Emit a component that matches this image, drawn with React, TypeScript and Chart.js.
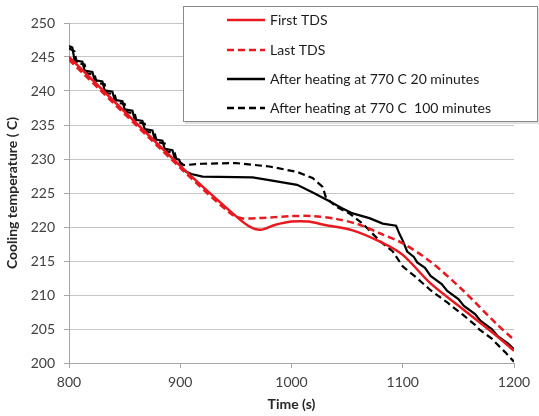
import React, { useEffect, useRef } from "react";
import { Chart, registerables } from "chart.js";

Chart.register(...registerables);

const seriesLabels = [
  "First TDS",
  "Last TDS",
  "After heating at 770 C 20 minutes",
  "After heating at 770 C  100 minutes",
];

const xTicks = [800, 900, 1000, 1100, 1200];
const yTicks = [200, 205, 210, 215, 220, 225, 230, 235, 240, 245, 250];

const firstTdsTime = [800, 900, 950, 962, 972, 985, 1000, 1015, 1030, 1055, 1080, 1100, 1125, 1155, 1185, 1200];
const firstTdsTemp = [245.0, 229.0, 221.6, 220.1, 219.6, 220.3, 220.8, 220.8, 220.3, 219.5, 217.8, 215.9, 211.7, 207.8, 203.9, 201.8];

const lastTdsTime = [800, 900, 945, 955, 970, 1000, 1020, 1040, 1060, 1079, 1100, 1125, 1154, 1184, 1200];
const lastTdsTemp = [244.6, 228.7, 222.0, 221.3, 221.3, 221.6, 221.6, 221.2, 220.4, 219.1, 217.6, 214.9, 210.7, 205.8, 203.4];

const heat20Time = [800, 803, 805, 812, 814, 821, 823, 830, 832, 839, 841, 848, 850, 857, 859, 866, 868, 875, 877, 884, 886, 893, 895, 899, 902, 910, 920, 965, 980, 1005, 1020, 1035, 1045, 1055, 1070, 1082, 1094, 1097, 1100, 1104, 1110, 1113, 1120, 1125, 1135, 1140, 1150, 1155, 1165, 1170, 1180, 1185, 1195, 1200];
const heat20Temp = [246.6, 246.4, 244.5, 244.3, 243.0, 242.8, 241.6, 241.4, 240.1, 239.9, 238.7, 238.5, 237.3, 237.1, 235.8, 235.6, 234.4, 234.2, 232.9, 232.7, 231.5, 231.3, 230.1, 229.9, 228.4, 227.8, 227.4, 227.3, 226.9, 226.2, 225.0, 223.7, 222.8, 222.0, 221.3, 220.5, 220.2, 219.0, 218.0, 216.4, 215.6, 214.8, 214.0, 212.8, 211.6, 210.6, 209.4, 208.4, 207.2, 206.2, 205.0, 204.0, 202.8, 202.0];

const heat100Time = [800, 805, 807, 814, 816, 823, 825, 832, 834, 841, 843, 850, 852, 859, 861, 868, 870, 877, 879, 886, 888, 895, 897, 901, 903, 920, 950, 980, 1005, 1019, 1028, 1031, 1040, 1052, 1064, 1079, 1091, 1100, 1112, 1125, 1140, 1154, 1165, 1169, 1180, 1184, 1192, 1200];
const heat100Temp = [246.3, 245.8, 244.1, 243.9, 242.6, 242.4, 241.2, 241.0, 239.7, 239.5, 238.3, 238.1, 236.9, 236.7, 235.4, 235.2, 234.0, 233.8, 232.5, 232.3, 231.1, 230.9, 229.7, 229.4, 229.1, 229.3, 229.4, 228.9, 228.1, 227.2, 225.9, 224.3, 223.0, 222.0, 220.5, 218.0, 216.4, 214.2, 212.6, 210.7, 208.9, 207.1, 205.6, 204.9, 203.6, 202.9, 201.6, 200.2];

const RED = "#e8191f";
const BLACK = "#000000";
const FONT = "Lato, 'Open Sans', sans-serif";

const toPoints = (xs: number[], ys: number[]) => xs.map((x, i) => ({ x, y: ys[i] }));

const legendBox = {
  id: "legendBox",
  afterDraw(chart: any) {
    const ctx = chart.ctx;
    const left = 183;
    const top = 6;
    const w = 355;
    const h = 116;
    ctx.save();
    ctx.fillStyle = "rgba(0,0,0,0.12)";
    ctx.fillRect(left + 2, top + 2, w, h);
    ctx.fillStyle = "#ffffff";
    ctx.fillRect(left, top, w, h);
    ctx.strokeStyle = "#8a8a8a";
    ctx.lineWidth = 1;
    ctx.strokeRect(left + 0.5, top + 0.5, w - 1, h - 1);
    const rows = [20, 50, 79, 108];
    chart.data.datasets.forEach((ds: any, i: number) => {
      const y = rows[i];
      ctx.beginPath();
      ctx.strokeStyle = ds.borderColor;
      ctx.lineWidth = 2.5;
      ctx.setLineDash(ds.borderDash || []);
      ctx.moveTo(227, y);
      ctx.lineTo(265, y);
      ctx.stroke();
      ctx.setLineDash([]);
      ctx.fillStyle = "#1a1a1a";
      ctx.font = `14px ${FONT}`;
      ctx.textBaseline = "middle";
      ctx.textAlign = "left";
      ctx.fillText(ds.label, 270, y);
    });
    ctx.restore();
  },
};

export default function App() {
  const ref = useRef<HTMLCanvasElement | null>(null);
  useEffect(() => {
    if (!ref.current) return;
    const chart = new Chart(ref.current, {
      type: "line",
      data: {
        datasets: [
          {
            label: seriesLabels[0],
            data: toPoints(firstTdsTime, firstTdsTemp),
            borderColor: RED,
            borderWidth: 2.5,
            pointRadius: 0,
            tension: 0.3,
          },
          {
            label: seriesLabels[1],
            data: toPoints(lastTdsTime, lastTdsTemp),
            borderColor: RED,
            borderWidth: 2.5,
            borderDash: [7, 4],
            pointRadius: 0,
            tension: 0.3,
          },
          {
            label: seriesLabels[2],
            data: toPoints(heat20Time, heat20Temp),
            borderColor: BLACK,
            borderWidth: 2.2,
            pointRadius: 0,
            tension: 0,
          },
          {
            label: seriesLabels[3],
            data: toPoints(heat100Time, heat100Temp),
            borderColor: BLACK,
            borderWidth: 2.2,
            borderDash: [7, 4],
            pointRadius: 0,
            tension: 0,
          },
        ],
      },
      options: {
        responsive: false,
        animation: false,
        layout: { padding: { top: 23, right: 25, left: 0, bottom: 0 } },
        plugins: {
          legend: { display: false },
          tooltip: { enabled: false },
        },
        scales: {
          x: {
            type: "linear",
            min: 800,
            max: 1200,
            afterFit: (s: any) => {
              s.height = 53;
            },
            afterBuildTicks: (s: any) => {
              s.ticks = xTicks.map((v) => ({ value: v }));
            },
            ticks: {
              color: "#404040",
              font: { family: FONT, size: 14 },
              padding: 6,
              maxRotation: 0,
              callback: (v: any) => String(v),
            },
            grid: {
              drawOnChartArea: false,
              tickLength: 5,
              tickColor: "#a6a6a6",
            },
            border: { color: "#a6a6a6", width: 1 },
            title: {
              display: true,
              text: "Time (s)",
              color: "#262626",
              font: { family: FONT, size: 14, weight: "bold" },
              padding: { top: 0, bottom: 3 },
            },
          },
          y: {
            type: "linear",
            min: 200,
            max: 250,
            afterFit: (s: any) => {
              s.width = 69;
            },
            afterBuildTicks: (s: any) => {
              s.ticks = yTicks.map((v) => ({ value: v }));
            },
            ticks: {
              color: "#404040",
              font: { family: FONT, size: 14 },
              padding: 9,
              callback: (v: any) => String(v),
            },
            grid: {
              color: "#c6c6c6",
              lineWidth: 1,
              tickLength: 5,
              tickColor: "#a6a6a6",
            },
            border: { color: "#a6a6a6", width: 1 },
            title: {
              display: true,
              text: "Cooling temperature ( C)",
              color: "#262626",
              font: { family: FONT, size: 14, weight: "bold" },
              padding: { top: 4, bottom: 0 },
            },
          },
        },
      },
      plugins: [legendBox],
    } as any);
    return () => chart.destroy();
  }, []);
  return (
    <div style={{ position: "absolute", left: 0, top: 0, width: 539, height: 416, background: "#fff" }}>
      <canvas ref={ref} width={539} height={416} style={{ width: 539, height: 416 }} />
    </div>
  );
}
